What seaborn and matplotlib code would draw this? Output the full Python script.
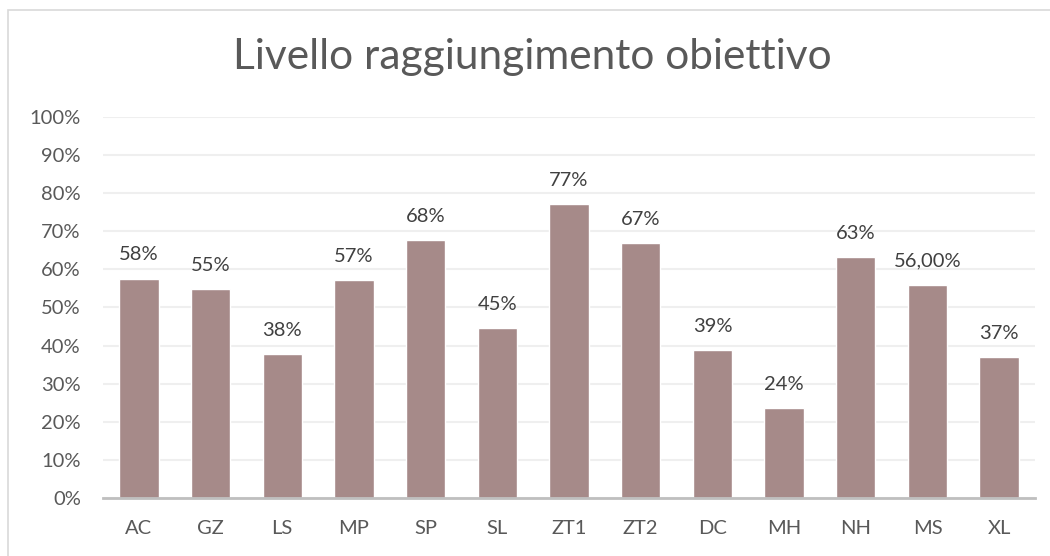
import matplotlib
matplotlib.use("Agg")
import matplotlib.pyplot as plt
import seaborn as sns
import pandas as pd
from matplotlib.ticker import PercentFormatter
from matplotlib.patches import Rectangle

# Data
categories = ["AC", "GZ", "LS", "MP", "SP", "SL", "ZT1", "ZT2", "DC", "MH", "NH", "MS", "XL"]
values = [0.576, 0.548, 0.378, 0.572, 0.678, 0.446, 0.772, 0.670, 0.388, 0.237, 0.632, 0.560, 0.369]
value_labels = ["58%", "55%", "38%", "57%", "68%", "45%", "77%", "67%", "39%", "24%", "63%", "56,00%", "37%"]
y_ticks = [0, 0.1, 0.2, 0.3, 0.4, 0.5, 0.6, 0.7, 0.8, 0.9, 1.0]

df = pd.DataFrame({"nome": categories, "valore": values})

sns.set_style("white")
plt.rcParams["font.family"] = ["Lato", "DejaVu Sans"]

fig = plt.figure(figsize=(10.5, 5.56), dpi=100)
ax = fig.add_axes([0.0981, 0.1043, 0.8876, 0.6853])

sns.barplot(data=df, x="nome", y="valore", color="#A68A89", saturation=1,
            width=0.55, ax=ax, zorder=3)

ax.set_ylim(0, 1)
ax.set_yticks(y_ticks)
ax.yaxis.set_major_formatter(PercentFormatter(1.0, decimals=0))
ax.set_xlim(-0.5, len(categories) - 0.5)
ax.grid(axis="y", color="#EFEFEF", linewidth=1.5, zorder=0)
ax.set_axisbelow(True)
for s in ["top", "right", "left"]:
    ax.spines[s].set_visible(False)
ax.spines["bottom"].set_color("#BFBFBF")
ax.spines["bottom"].set_linewidth(2)
ax.spines["bottom"].set_zorder(4)

ax.set_xlabel("")
ax.set_ylabel("")
ax.tick_params(axis="both", length=0, labelsize=14.5, labelcolor="#595959")
ax.tick_params(axis="x", pad=16)
ax.tick_params(axis="y", pad=16)

# data labels above bars
for i, (v, lab) in enumerate(zip(values, value_labels)):
    ax.annotate(lab, (i, v), xytext=(0, 13), textcoords="offset points",
                ha="center", va="baseline", fontsize=14.5, color="#404040")

fig.text(0.507, 0.876, "Livello raggiungimento obiettivo", ha="center",
         va="baseline", fontsize=30.5, color="#595959")

# chart area border (only top and left are visible in the crop)
fig.patches.append(Rectangle((7.5 / 1050, -0.1), 1.2, 1 - 10 / 556 + 0.1,
                             transform=fig.transFigure, fill=False,
                             edgecolor="#D9D9D9", linewidth=1.2))

fig.savefig("out.png", dpi=100)
